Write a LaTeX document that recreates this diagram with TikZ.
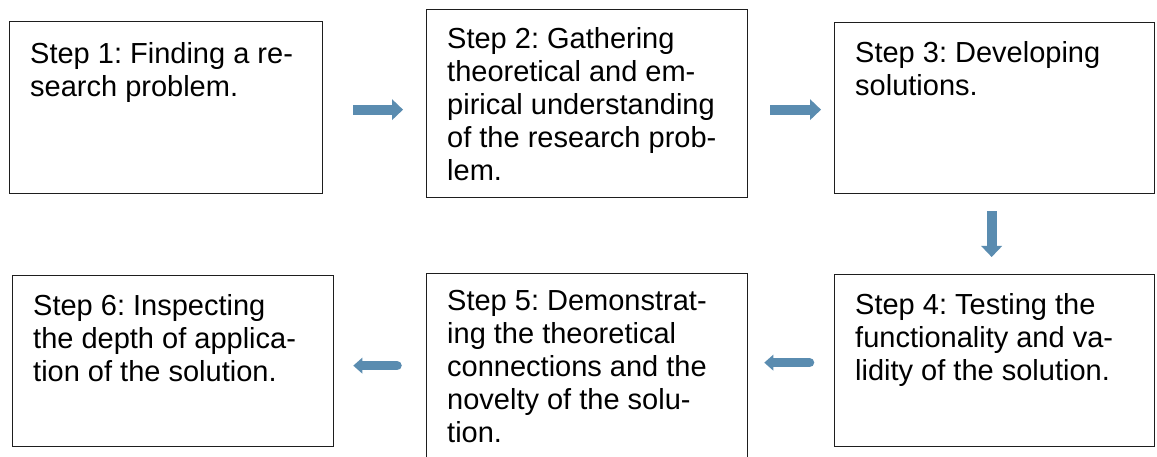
\documentclass[tikz,border=0pt]{standalone}
\usepackage{fontspec}
\setmainfont{Liberation Sans}
\usetikzlibrary{arrows.meta}
\definecolor{arrowblue}{RGB}{90,140,176}
\definecolor{boxline}{RGB}{30,30,30}
\frenchspacing
\begin{document}
\begin{tikzpicture}[
  box/.style={draw=boxline, line width=1.3pt, inner sep=0pt, anchor=north west},
  steptext/.style={anchor=north west, inner sep=0pt, align=left,
    font=\fontsize{29}{33}\selectfont},
  flow/.style={draw=arrowblue, line width=10pt,
    -{Triangle[width=21pt,length=11pt,line width=0pt]}},
  flowround/.style={draw=arrowblue, line width=9.5pt, line cap=round,
    -{Triangle[width=16pt,length=9pt,line width=0pt,round]}}
]
\useasboundingbox (0pt,0pt) rectangle (1157pt,-457pt);

\node[box, minimum width=313pt, minimum height=172pt] (b1) at (9pt,-21pt) {};
\node[box, minimum width=321pt, minimum height=188pt] (b2) at (426pt,-9pt) {};
\node[box, minimum width=320pt, minimum height=171pt] (b3) at (834pt,-22pt) {};
\node[box, minimum width=320pt, minimum height=172pt] (b4) at (834pt,-274pt) {};
\node[box, minimum width=321pt, minimum height=190pt] (b5) at (426pt,-273pt) {};
\node[box, minimum width=321pt, minimum height=171pt] (b6) at (12pt,-275pt) {};

\node[steptext] (t1) at ([shift={(21pt,-21pt)}]b1.north west) {Step 1: Finding a re-\\search problem.};
\node[steptext] (t2) at ([shift={(21pt,-18pt)}]b2.north west) {Step 2: Gathering\\theoretical and em-\\pirical understanding\\of the research prob-\\lem.};
\node[steptext] (t3) at ([shift={(21pt,-19pt)}]b3.north west) {Step 3: Developing\\solutions.};
\node[steptext] (t4) at ([shift={(21pt,-19pt)}]b4.north west) {Step 4: Testing the\\functionality and va-\\lidity of the solution.};
\node[steptext] (t5) at ([shift={(21pt,-17pt)}]b5.north west) {Step 5: Demonstrat-\\ing the theoretical\\connections and the\\novelty of the solu-\\tion.};
\node[steptext] (t6) at ([shift={(21pt,-19pt)}]b6.north west) {Step 6: Inspecting\\the depth of applica-\\tion of the solution.};

\draw[flow] ([shift={(30pt,-2pt)}]b1.east) -- ([shift={(-23pt,-6pt)}]b2.west);
\draw[flow] ([shift={(22pt,-6pt)}]b2.east) -- ([shift={(-13pt,-1.5pt)}]b3.west);
\draw[flow] ([shift={(-3pt,-17pt)}]b3.south) -- ([shift={(-3pt,17pt)}]b4.north);
\draw[flowround] ([shift={(-24.5pt,-2pt)}]b4.west) -- ([shift={(16pt,6pt)}]b5.east);
\draw[flowround] ([shift={(-29pt,3pt)}]b5.west) -- ([shift={(19pt,-4.5pt)}]b6.east);
\end{tikzpicture}
\end{document}
